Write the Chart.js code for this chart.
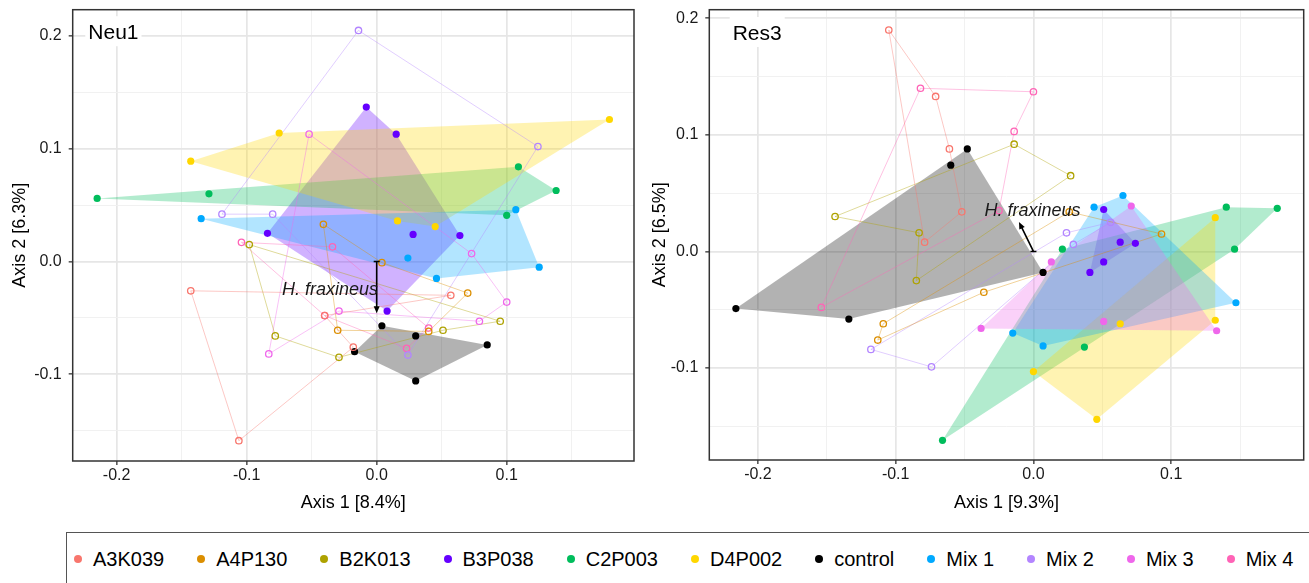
<!DOCTYPE html>
<html>
<head>
<meta charset="utf-8">
<title>PCoA Neu1 / Res3</title>
<script src="https://cdn.jsdelivr.net/npm/chart.js@4.4.0/dist/chart.umd.min.js"></script>
<style>
  html, body { margin: 0; padding: 0; background: #fff; overflow: hidden; width: 1309px; height: 583px; font-family: "Liberation Sans", Arial, sans-serif; }
  #wrap { position: relative; width: 1309px; height: 583px; }
  canvas { position: absolute; top: 0; }
  #neu1 { left: 0; }
  #res3 { left: 640px; }
  #legend { position: absolute; left: 66px; top: 532px; width: 1300px; height: 52px; border: 1px solid #555;
            display: flex; align-items: center; padding-left: 7px; font-size: 20px; color: #000; }
  .item { display: flex; align-items: center; margin-right: 33px; white-space: nowrap; }
  .dot { width: 8px; height: 8px; border-radius: 50%; margin-right: 11px; flex: none; }
</style>
</head>
<body>
<div id="wrap">
  <canvas id="neu1" width="640" height="530"></canvas>
  <canvas id="res3" width="669" height="530"></canvas>
  <div id="legend"></div>
</div>
<script>
'use strict';

const groups = ['A3K039', 'A4P130', 'B2K013', 'B3P038', 'C2P003', 'D4P002', 'control', 'Mix 1', 'Mix 2', 'Mix 3', 'Mix 4'];
const palette = ['#F8766D', '#DB8E00', '#AEA200', '#6500FF', '#00BD5C', '#FFD700', '#000000', '#00A9FF', '#B385FF', '#EF67EB', '#FF63B6'];

// Neu1: [Axis 1, Axis 2] per sample (hollow groups kept in drawing order)
const neu1_A3K039 = [[-0.143, -0.026], [0.057, -0.030], [-0.040, -0.048], [-0.018, -0.076], [-0.106, -0.159]];
const neu1_A4P130 = [[-0.041, 0.033], [0.004, -0.001], [0.070, -0.028], [0.040, -0.062], [-0.030, -0.061]];
const neu1_B2K013 = [[-0.098, 0.015], [-0.078, -0.066], [-0.029, -0.085], [0.051, -0.061], [0.095, -0.053]];
const neu1_B3P038 = [[-0.008, 0.137], [0.015, 0.113], [0.028, 0.024], [0.064, 0.023], [0.008, -0.044], [-0.084, 0.025]];
const neu1_C2P003 = [[-0.215, 0.056], [-0.129, 0.060], [0.109, 0.084], [0.138, 0.063], [0.100, 0.041]];
const neu1_D4P002 = [[-0.143, 0.089], [-0.075, 0.114], [0.179, 0.126], [0.016, 0.036], [0.045, 0.031]];
const neu1_control = [[0.004, -0.057], [0.030, -0.066], [-0.017, -0.080], [0.085, -0.074], [0.030, -0.106]];
const neu1_Mix1 = [[-0.135, 0.038], [0.107, 0.046], [0.125, -0.005], [0.046, -0.015], [0.024, 0.003]];
const neu1_Mix2 = [[-0.014, 0.205], [0.124, 0.102], [0.024, -0.083], [-0.080, 0.042], [-0.119, 0.042]];
const neu1_Mix3 = [[-0.052, 0.113], [0.073, 0.007], [0.100, -0.036], [0.079, -0.053], [-0.029, -0.044], [-0.083, -0.082]];
const neu1_Mix4 = [[-0.104, 0.017], [-0.034, 0.013], [0.040, -0.059], [0.023, -0.077], [-0.040, -0.048]];

// Res3
const res3_A3K039 = [[-0.105, 0.190], [-0.071, 0.133], [-0.061, 0.088], [-0.052, 0.034], [-0.079, 0.008]];
const res3_A4P130 = [[0.026, 0.034], [0.093, 0.015], [-0.036, -0.035], [-0.113, -0.076], [-0.109, -0.062]];
const res3_B2K013 = [[-0.014, 0.092], [0.027, 0.065], [-0.085, -0.025], [-0.083, 0.016], [-0.144, 0.030]];
const res3_B3P038 = [[0.051, 0.036], [0.063, 0.008], [0.074, 0.007], [0.051, -0.009], [0.041, -0.018]];
const res3_C2P003 = [[0.140, 0.038], [0.177, 0.037], [0.146, 0.002], [0.021, 0.002], [0.037, -0.082], [-0.066, -0.162]];
const res3_D4P002 = [[0.132, 0.029], [0.132, -0.059], [0.063, -0.062], [0.000, -0.103], [0.046, -0.144]];
const res3_control = [[-0.048, 0.088], [-0.060, 0.074], [-0.216, -0.049], [-0.134, -0.058], [0.007, -0.018]];
const res3_Mix1 = [[0.065, 0.048], [0.044, 0.038], [0.147, -0.044], [-0.015, -0.070], [0.007, -0.081]];
const res3_Mix2 = [[-0.118, -0.084], [0.024, 0.016], [0.056, 0.025], [0.029, 0.006], [-0.074, -0.099]];
const res3_Mix3 = [[0.071, 0.039], [0.013, -0.009], [-0.038, -0.066], [0.051, -0.060], [0.133, -0.068]];
const res3_Mix4 = [[-0.082, 0.140], [0.000, 0.137], [-0.014, 0.103], [-0.025, 0.035], [-0.154, -0.048]];

const neu1Sets = [neu1_A3K039, neu1_A4P130, neu1_B2K013, neu1_B3P038, neu1_C2P003, neu1_D4P002, neu1_control, neu1_Mix1, neu1_Mix2, neu1_Mix3, neu1_Mix4];
const res3Sets = [res3_A3K039, res3_A4P130, res3_B2K013, res3_B3P038, res3_C2P003, res3_D4P002, res3_control, res3_Mix1, res3_Mix2, res3_Mix3, res3_Mix4];

// groups drawn with filled points + hull
const neu1Filled = ['B3P038', 'C2P003', 'D4P002', 'control', 'Mix 1'];
const res3Filled = ['B3P038', 'C2P003', 'D4P002', 'control', 'Mix 1', 'Mix 3'];

// H. fraxineus vector tips and label anchors
const vectorName = 'H. fraxineus';
const neu1Arrow = [0, -0.046];
const res3Arrow = [-0.0105, 0.0253];
const neu1LabelAt = [0.001, -0.0253];
const res3LabelAt = [-0.0007, 0.0344];

Chart.defaults.font.family = '"Liberation Sans", Arial, sans-serif';

function hexA(hex, a) {
  const n = parseInt(hex.slice(1), 16);
  return `rgba(${n >> 16},${(n >> 8) & 255},${n & 255},${a})`;
}

// monotone chain convex hull
function convexHull(pts) {
  const p = pts.slice().sort((a, b) => a.x - b.x || a.y - b.y);
  const cross = (o, a, b) => (a.x - o.x) * (b.y - o.y) - (a.y - o.y) * (b.x - o.x);
  const lower = [], upper = [];
  for (const q of p) {
    while (lower.length >= 2 && cross(lower[lower.length - 2], lower[lower.length - 1], q) <= 0) lower.pop();
    lower.push(q);
  }
  for (let i = p.length - 1; i >= 0; i--) {
    const q = p[i];
    while (upper.length >= 2 && cross(upper[upper.length - 2], upper[upper.length - 1], q) <= 0) upper.pop();
    upper.push(q);
  }
  return lower.slice(0, -1).concat(upper.slice(0, -1));
}

function buildDatasets(sets, filled) {
  const ds = [];
  groups.forEach((g, i) => {
    const pts = sets[i].map(p => ({x: p[0], y: p[1]}));
    const solid = filled.includes(g);
    if (solid) {
      ds.push({label: g + ' hull', data: convexHull(pts), hullFill: hexA(palette[i], 0.3),
               pointRadius: 0, showLine: false, order: 2});
    } else {
      ds.push({label: g + ' path', data: pts.concat([pts[0]]), showLine: true,
               borderColor: hexA(palette[i], 0.4), borderWidth: 1, pointRadius: 0, order: 1});
    }
    ds.push({label: g, data: pts, showLine: false, order: 0,
             pointRadius: solid ? 3.6 : 3.2,
             pointBorderWidth: solid ? 0 : 1.3,
             pointBackgroundColor: solid ? palette[i] : 'rgba(0,0,0,0)',
             pointBorderColor: palette[i]});
  });
  return ds;
}

const hullPlugin = {
  id: 'hulls',
  beforeDatasetsDraw(chart) {
    const {ctx, chartArea: a, scales: {x, y}} = chart;
    ctx.save();
    ctx.beginPath();
    ctx.rect(a.left, a.top, a.width, a.height);
    ctx.clip();
    chart.data.datasets.forEach(d => {
      if (!d.hullFill) return;
      ctx.beginPath();
      d.data.forEach((p, k) => {
        const px = x.getPixelForValue(p.x), py = y.getPixelForValue(p.y);
        if (k) ctx.lineTo(px, py); else ctx.moveTo(px, py);
      });
      ctx.closePath();
      ctx.fillStyle = d.hullFill;
      ctx.fill();
    });
    ctx.restore();
  }
};

function decorPlugin(cfg) {
  return {
    id: 'decor',
    afterDatasetsDraw(chart) {
      const {ctx, chartArea: a, scales: {x, y}} = chart;
      ctx.save();
      // vector arrow
      const x0 = x.getPixelForValue(0), y0 = y.getPixelForValue(0);
      const x1 = x.getPixelForValue(cfg.arrow[0]), y1 = y.getPixelForValue(cfg.arrow[1]);
      const ang = Math.atan2(y1 - y0, x1 - x0);
      ctx.strokeStyle = '#000';
      ctx.fillStyle = '#000';
      ctx.lineWidth = 1.6;
      ctx.beginPath();
      ctx.moveTo(x0, y0);
      ctx.lineTo(x1 - 5 * Math.cos(ang), y1 - 5 * Math.sin(ang));
      ctx.moveTo(x0 - 3, y0);
      ctx.lineTo(x0 + 3, y0);
      ctx.stroke();
      ctx.beginPath();
      ctx.moveTo(x1, y1);
      ctx.lineTo(x1 - 7 * Math.cos(ang) + 3 * Math.sin(ang), y1 - 7 * Math.sin(ang) - 3 * Math.cos(ang));
      ctx.lineTo(x1 - 7 * Math.cos(ang) - 3 * Math.sin(ang), y1 - 7 * Math.sin(ang) + 3 * Math.cos(ang));
      ctx.closePath();
      ctx.fill();
      // vector label
      ctx.font = 'italic 18px "Liberation Sans"';
      ctx.textAlign = cfg.labelAlign;
      ctx.textBaseline = 'middle';
      ctx.fillStyle = '#1a1a1a';
      ctx.fillText(vectorName, x.getPixelForValue(cfg.labelAt[0]), y.getPixelForValue(cfg.labelAt[1]));
      // panel name
      ctx.font = '21px "Liberation Sans"';
      ctx.textAlign = 'left';
      const tw = ctx.measureText(cfg.name).width;
      const tx = a.left + cfg.nameOffset[0], ty = a.top + cfg.nameOffset[1];
      ctx.fillStyle = '#fff';
      ctx.fillRect(tx - 3, ty - 17, tw + 6, 30);
      ctx.fillStyle = '#000';
      ctx.fillText(cfg.name, tx, ty);
      // panel border
      ctx.strokeStyle = '#333';
      ctx.lineWidth = 1.5;
      ctx.strokeRect(a.left, a.top, a.width, a.height);
      ctx.restore();
    }
  };
}

const isMajor = v => Math.abs(Math.round(v * 20)) % 2 === 0;

function axisOpts(axis, cfg) {
  return {
    type: 'linear',
    min: cfg[axis + 'Range'][0],
    max: cfg[axis + 'Range'][1],
    ticks: {
      stepSize: 0.05, includeBounds: false, maxTicksLimit: 30, autoSkip: false, maxRotation: 0,
      color: '#1a1a1a', font: {size: 16}, padding: axis === 'x' ? 1 : 7,
      callback: v => isMajor(v) ? (Math.round(v * 10) / 10).toFixed(1) : ''
    },
    grid: {
      color: c => (c.tick && isMajor(c.tick.value)) ? '#E6E6E6' : '#EFEFEF',
      lineWidth: c => (c.tick && isMajor(c.tick.value)) ? 1.7 : 0.9,
      tickColor: c => (c.tick && isMajor(c.tick.value)) ? '#333' : 'rgba(0,0,0,0)',
      tickWidth: 1.3,
      tickLength: 4
    },
    border: {display: false},
    title: {
      display: true, text: cfg[axis + 'Title'], color: '#000', font: {size: 18},
      padding: axis === 'x' ? {top: 0, bottom: 16} : {top: 9, bottom: 0}
    },
    afterFit: s => {
      if (axis === 'x') s.height = cfg.xHeight; else s.width = cfg.yWidth;
      // keep the plot box exactly where the layout padding puts it
      s.paddingTop = 0; s.paddingBottom = 0; s.paddingLeft = 0; s.paddingRight = 0;
    }
  };
}

function makePanel(id, sets, filled, cfg) {
  return new Chart(document.getElementById(id), {
    type: 'scatter',
    data: {datasets: buildDatasets(sets, filled)},
    options: {
      responsive: false,
      animation: false,
      events: [],
      layout: {padding: {top: 9.7, right: cfg.padRight, left: 0, bottom: 0}},
      plugins: {legend: {display: false}, tooltip: {enabled: false}},
      scales: {x: axisOpts('x', cfg), y: axisOpts('y', cfg)}
    },
    plugins: [hullPlugin, decorPlugin(cfg)]
  });
}

makePanel('neu1', neu1Sets, neu1Filled, {
  name: 'Neu1', xTitle: 'Axis 1 [8.4%]', yTitle: 'Axis 2 [6.3%]',
  xRange: [-0.2338, 0.1979], yRange: [-0.1770, 0.2234],
  xHeight: 69, yWidth: 72.7, padRight: 6,
  arrow: neu1Arrow, labelAt: neu1LabelAt, labelAlign: 'right', nameOffset: [15.6, 23.5]
});

makePanel('res3', res3Sets, res3Filled, {
  name: 'Res3', xTitle: 'Axis 1 [9.3%]', yTitle: 'Axis 2 [6.5%]',
  xRange: [-0.2353, 0.1962], yRange: [-0.1789, 0.2074],
  xHeight: 70, yWidth: 69.3, padRight: 0,
  arrow: res3Arrow, labelAt: res3LabelAt, labelAlign: 'center', nameOffset: [23.4, 24.3]
});

// shared legend
const legend = document.getElementById('legend');
groups.forEach((g, i) => {
  const item = document.createElement('div');
  item.className = 'item';
  const dot = document.createElement('span');
  dot.className = 'dot';
  dot.style.background = palette[i];
  const txt = document.createElement('span');
  txt.textContent = g;
  item.appendChild(dot);
  item.appendChild(txt);
  legend.appendChild(item);
});
</script>
</body>
</html>
